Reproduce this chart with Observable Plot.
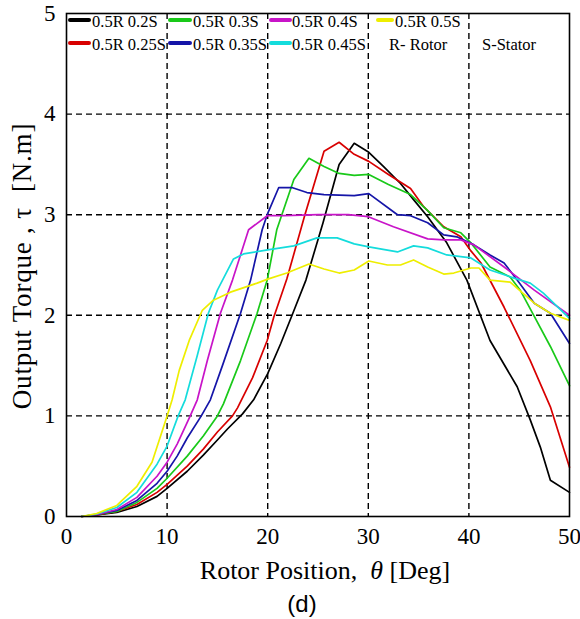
<!DOCTYPE html>
<html><head><meta charset="utf-8">
<script src="https://cdn.jsdelivr.net/npm/d3@7"></script>
<script src="https://cdn.jsdelivr.net/npm/@observablehq/plot@0.6"></script>
<style>body{margin:0;background:#fff;}</style>
</head><body><div id="chart"></div>
<script>
// Series names and colours
const seriesNames = ["0.5R 0.2S","0.5R 0.25S","0.5R 0.3S","0.5R 0.35S","0.5R 0.4S","0.5R 0.45S","0.5R 0.5S"];
const seriesColors = ["#000000","#d80000","#19c919","#1515a8","#c814c8","#14dcdc","#eeee00"];
const extraLegend = ["R- Rotor","S-Stator"];
const xTicks = [0,10,20,30,40,50];
const yTicks = [0,1,2,3,4,5];

// [rotor position (deg), torque (N.m)]
const s020 = [[1.5,0],[3,0.015],[5,0.04],[7,0.1],[9,0.2],[10,0.28],[12,0.45],[13.6,0.61],[15,0.76],[16,0.87],[17.5,1.02],[18.6,1.16],[20,1.42],[21.3,1.72],[22.5,2.02],[23.8,2.35],[25.5,2.92],[27.1,3.5],[28.6,3.71],[30.05,3.62],[31.5,3.48],[33.2,3.31],[34.5,3.15],[35.9,2.98],[37.8,2.72],[39.8,2.35],[42.1,1.75],[44.8,1.29],[46.1,0.96],[47.1,0.69],[48.1,0.36],[50,0.24]];
const s025 = [[1.5,0],[3,0.015],[5,0.05],[7,0.12],[9,0.24],[10,0.32],[12,0.5],[13.6,0.67],[15,0.84],[16.5,1.0],[17,1.08],[18.5,1.38],[19.95,1.75],[20.6,1.98],[21.9,2.36],[23.7,3.0],[25.6,3.63],[27.1,3.72],[28.6,3.6],[30.05,3.53],[32,3.4],[34.2,3.26],[35.5,3.08],[37.5,2.88],[39.2,2.78],[40.2,2.64],[41.2,2.52],[43.5,2.08],[46.1,1.55],[48.1,1.09],[50,0.49]];
const s030 = [[1.5,0],[3,0.02],[5,0.05],[7,0.14],[9,0.28],[10,0.38],[12,0.6],[13.6,0.8],[15,1.0],[15.6,1.12],[17.3,1.55],[18.95,2.02],[19.95,2.35],[20.9,2.85],[22.6,3.35],[24.1,3.56],[25.6,3.48],[27.1,3.41],[28.6,3.39],[30.05,3.4],[32,3.3],[34.2,3.2],[35.9,3.04],[37.5,2.87],[39.2,2.82],[40.2,2.72],[42.1,2.48],[44.1,2.38],[45.1,2.25],[46.5,1.99],[48.1,1.69],[50,1.3]];
const s035 = [[1.5,0],[3,0.02],[5,0.06],[7,0.16],[9,0.33],[10,0.45],[11,0.6],[12,0.78],[13.4,1.0],[14.3,1.16],[15.5,1.5],[17.3,2.02],[18.3,2.35],[19.45,2.85],[19.95,3.0],[21.1,3.27],[22.4,3.27],[23.9,3.22],[25.6,3.2],[28.6,3.19],[30.05,3.21],[32.9,3.0],[34.2,2.99],[35.9,2.92],[37.5,2.8],[38.8,2.78],[40.5,2.7],[42.1,2.6],[43.5,2.52],[44.8,2.35],[46.5,2.12],[48.1,2.02],[50,1.72]];
const s040 = [[1.5,0],[3,0.02],[5,0.07],[7,0.19],[9,0.4],[10,0.54],[11,0.72],[12.3,1.0],[13,1.16],[14,1.55],[15.3,2.02],[16.5,2.35],[18.1,2.85],[19.95,2.99],[21.6,2.99],[25,3.0],[28,3.0],[30,2.98],[32.5,2.88],[35.9,2.76],[37.5,2.75],[39.2,2.75],[40.5,2.7],[43.5,2.48],[46.5,2.25],[50,2.0]];
const s045 = [[1.5,0],[3,0.025],[5,0.09],[7,0.24],[9,0.52],[10,0.7],[11.1,1.0],[11.8,1.16],[13,1.6],[14.1,2.02],[15,2.25],[16.6,2.56],[17.6,2.61],[20,2.65],[22.6,2.69],[24.9,2.77],[26.9,2.77],[28.6,2.71],[30.05,2.68],[32.9,2.63],[34.5,2.69],[35.9,2.67],[37.8,2.6],[40.2,2.57],[42.1,2.45],[44.5,2.37],[46.1,2.32],[47.4,2.22],[50,1.97]];
const s050 = [[1.5,0],[3,0.03],[5,0.11],[7,0.3],[8.5,0.54],[10,1.0],[10.5,1.16],[11.2,1.45],[12.2,1.75],[13.5,2.05],[14.6,2.15],[16.3,2.23],[18.95,2.32],[20,2.36],[21.9,2.42],[24.1,2.51],[25.6,2.46],[27.1,2.42],[28.6,2.45],[30.05,2.54],[31.9,2.5],[33.2,2.5],[34.5,2.55],[35.9,2.48],[37.5,2.41],[38.5,2.42],[40.2,2.47],[41,2.47],[42.1,2.35],[44.1,2.33],[46.5,2.12],[48.1,2.02],[50,1.95]];

const seriesData = [s020,s025,s030,s035,s040,s045,s050];
const rows = [];
seriesData.forEach((arr,i) => arr.forEach(([x,y]) => rows.push({series: seriesNames[i], x, y})));

const SERIF = "'Liberation Serif', 'Times New Roman', serif";
const grid = {stroke:"#000", strokeOpacity:1, strokeDasharray:"6,4", strokeWidth:1.4};

const chart = Plot.plot({
  width: 580, height: 619,
  marginLeft: 66, marginRight: 11, marginTop: 13, marginBottom: 103,
  style: {fontFamily: SERIF, fontSize: "23px", background: "#fff", color: "#000"},
  x: {domain: [0,50]},
  y: {domain: [0,5]},
  color: {domain: seriesNames, range: seriesColors},
  marks: [
    Plot.gridX([10,20,30,40], grid),
    Plot.gridY([1,2,3,4], grid),
    Plot.line(rows, {x:"x", y:"y", z:"series", stroke:"series", strokeWidth:1.7}),
    Plot.axisX(xTicks, {tickSize:0, tickPadding:11, label:null, tickFormat: d3.format("d"), fontSize: 23, fontFamily: SERIF}),
    Plot.axisY(yTicks, {tickSize:0, tickPadding:11, label:null, tickFormat: d3.format("d"), fontSize: 23, fontFamily: SERIF}),
    Plot.frame({stroke:"#000", strokeWidth:1.6})
  ]
});

const svg = d3.select(chart);
// Legend
const colX = [[70,89,92],[170,190,193],[271,290,292],[378,392,395]];
const rowY = [22,45];
const lg = svg.append("g").attr("font-family",SERIF).attr("font-size",16.5).attr("text-anchor","start").attr("fill","#000");
seriesNames.forEach((name,i) => {
  const c = colX[Math.floor(i/2)], r = rowY[i%2];
  lg.append("line").attr("x1",c[0]).attr("x2",c[1]).attr("y1",r-2).attr("y2",r-2)
    .attr("stroke",seriesColors[i]).attr("stroke-width",4).attr("stroke-linecap","round");
  lg.append("text").attr("x",c[2]).attr("y",r).attr("dy","0.32em").text(name);
});
lg.append("text").attr("x",389).attr("y",rowY[1]).attr("dy","0.32em").text(extraLegend[0]);
lg.append("text").attr("x",482).attr("y",rowY[1]).attr("dy","0.32em").text(extraLegend[1]);

// Axis titles
const xt = svg.append("text").attr("x",325).attr("y",571).attr("dy","0.32em")
  .attr("text-anchor","middle").attr("font-family",SERIF).attr("font-size",26).attr("fill","#000")
  .attr("style","white-space:pre");
xt.append("tspan").text("Rotor Position,  ");
xt.append("tspan").attr("font-style","italic").text("θ");
xt.append("tspan").text(" [Deg]");

svg.append("text").attr("transform","translate(22,266) rotate(-90)").attr("dy","0.32em")
  .attr("text-anchor","middle").attr("font-family",SERIF).attr("font-size",27).attr("fill","#000")
  .attr("style","white-space:pre;letter-spacing:0.8px").text("Output Torque , τ  [N.m]");

svg.append("text").attr("x",302).attr("y",604).attr("dy","0.35em").attr("text-anchor","middle")
  .attr("font-family","'Liberation Sans', Arial, sans-serif").attr("font-size",24).attr("fill","#000").text("(d)");

document.getElementById("chart").appendChild(chart);
</script>
</body></html>
